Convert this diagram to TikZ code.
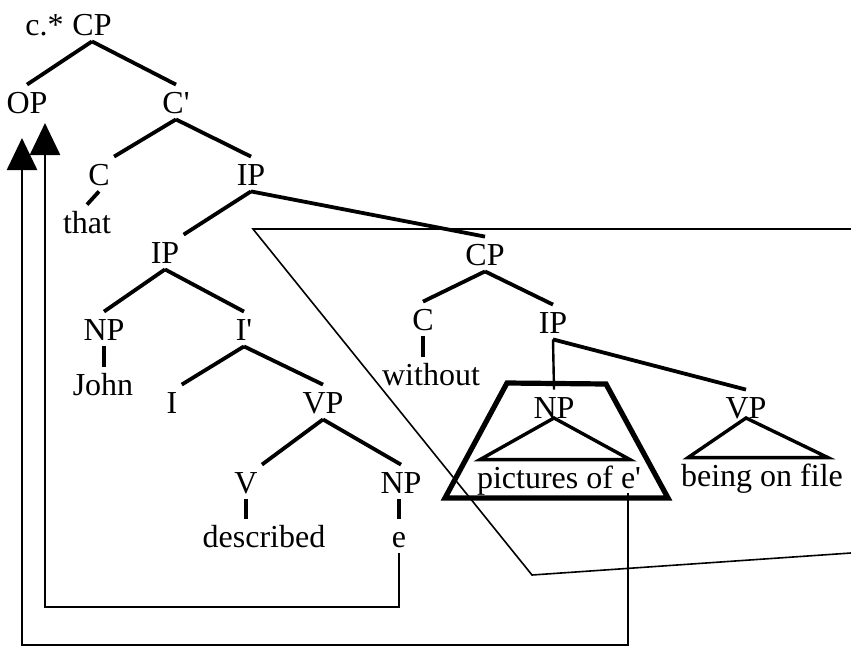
\documentclass[tikz,border=0pt]{standalone}
\usepackage{fontspec}
\setmainfont{Liberation Serif}
\usetikzlibrary{arrows.meta,calc}

\begin{document}
\begin{tikzpicture}[x=0.5pt,y=-0.5pt,
    lbl/.style={font=\fontsize{16}{19}\selectfont, text height=11pt,
                text depth=0pt, inner xsep=2pt, inner ysep=3pt, anchor=base},
    branch/.style={line width=1.9pt},
    tri/.style={line width=1.7pt, line join=miter},
    frame/.style={line width=2.6pt, line join=miter},
    thinline/.style={line width=0.8pt},
    trace/.style={line width=1.3pt, -{Triangle[width=15pt,length=16pt]}}]
  \useasboundingbox (0,0) rectangle (851,654);
  % main clause
  \node[lbl] (top)  at (92,35)   {CP};
  \node[lbl, anchor=base east] (cstar) at (top.base west) {c.*};
  \node[lbl] (op)   at (27,113)  {OP};
  \node[lbl] (cbar) at (176,113) {C\textquotesingle};
  \node[lbl] (c)    at (99,185)  {C};
  \node[lbl] (that) at (87,233)  {that};
  \node[lbl] (ip)   at (251,185) {IP};
  \node[lbl] (ipa)  at (165,263) {IP};
  \node[lbl] (np)   at (104,340) {NP};
  \node[lbl] (john) at (103,395) {John};
  \node[lbl] (ibar) at (244,340) {I\textquotesingle};
  \node[lbl] (i)    at (172,413) {I};
  \node[lbl] (vp)   at (323,413) {VP};
  \node[lbl] (v)    at (246,493) {V};
  \node[lbl] (npe)  at (401,493) {NP};
  \node[lbl] (described) at (264,547) {described};
  \node[lbl] (e)    at (399,547) {e};
  % adjunct clause
  \node[lbl] (cpw)  at (485,265) {CP};
  \node[lbl] (cw)   at (423,330) {C};
  \node[lbl] (without) at (431,385) {without};
  \node[lbl] (ipw)  at (553,333) {IP};
  \node[lbl] (nppic) at (554,418) {NP};
  \node[lbl] (pics) at (559,488) {pictures of e\textquotesingle};
  \node[lbl] (vpf)  at (746,418) {VP};
  \node[lbl] (file) at (762,486) {being on file};
  \path[branch]
    (top.south)  edge (op.north)
    (top.south)  edge (cbar.north)
    (cbar.south) edge (c.north east)
    (cbar.south) edge (ip.north)
    (c.south)    edge (that.north)
    (ip.south)   edge (ipa.north east)
    (ip.south)   edge (cpw.north)
    (ipa.south)  edge (np.north)
    (ipa.south)  edge (ibar.north)
    (np.south)   edge (np.south |- john.north)
    (ibar.south) edge (i.north east)
    (ibar.south) edge (vp.north)
    (vp.south)   edge (v.north east)
    (vp.south)   edge (npe.north)
    (v.south)    edge (v.south |- described.north)
    (e.north |- npe.south) edge (e.north)
    (cpw.south)  edge (cw.north)
    (cpw.south)  edge (ipw.north)
    (cw.south)   edge (cw.south |- without.north)
    (ipw.south)  edge[line width=1.2pt] (nppic.north)
    (ipw.south)  edge (vpf.north);
  % triangles
  \draw[tri] (nppic.base) -- ($(pics.north)+(-79,0)$) -- ($(pics.north)+(71,0)$) -- cycle;
  \draw[tri] (vpf.base) -- ($(file.north)+(-74,0)$) -- ($(file.north)+(66,0)$) -- cycle;
  % island box and adjunct domain
  \draw[frame] (507,383) -- (606,384) -- (668,498) -- (445,498) -- cycle;
  \draw[thinline] (851,229) -- (253,229) -- (532,575) -- (851,553);
  % chains to OP
  \coordinate (tipL) at (22,138);
  \coordinate (tipR) at (45,123);
  \coordinate (eprime) at (628,493);
  \coordinate (floorin) at (0,607);
  \coordinate (floorout) at (0,645);
  \draw[trace] (e.south) -- (e.south |- floorin) -| (tipR);
  \draw[trace] (eprime) -- (eprime |- floorout) -| (tipL);
\end{tikzpicture}
\end{document}
